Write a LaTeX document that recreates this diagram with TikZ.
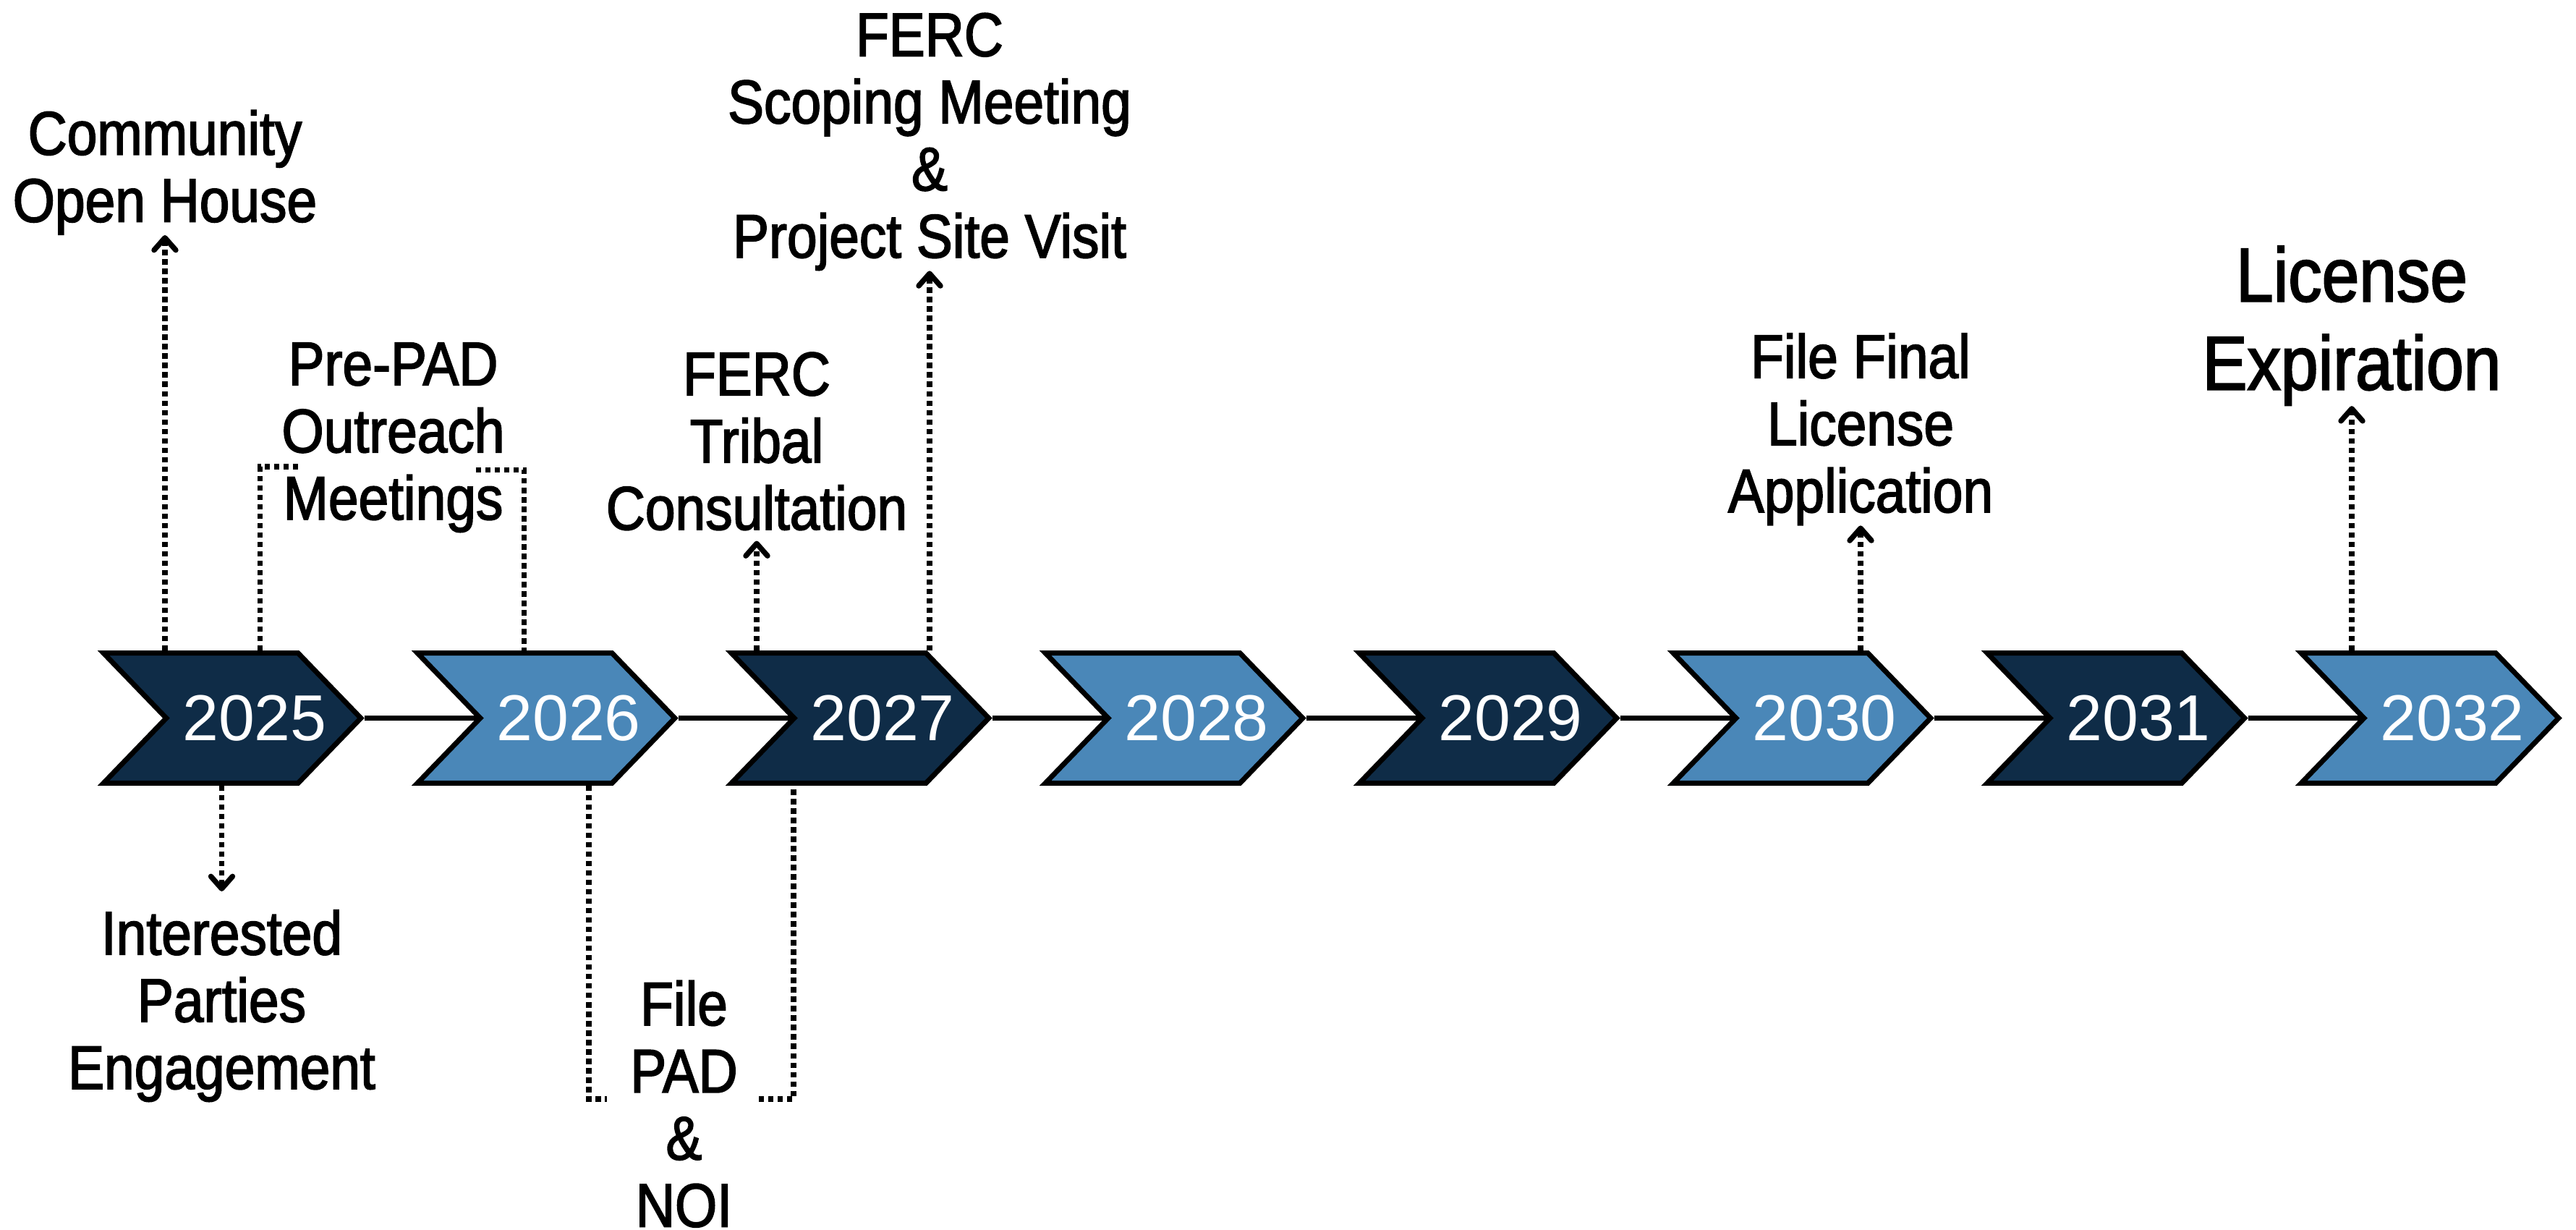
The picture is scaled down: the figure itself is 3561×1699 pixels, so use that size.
\documentclass[tikz,border=0pt]{standalone}
\usepackage{fontspec}
\usepackage{xcolor}
\usepackage{tikz}
\usetikzlibrary{shapes.symbols,arrows.meta,backgrounds}

\newfontfamily\labelfont{Liberation Sans}[FakeStretch=0.88, FakeBold=2]
\newfontfamily\yearfont{Liberation Sans}

\definecolor{navy}{HTML}{0F2C47}
\definecolor{steel}{HTML}{4A87B8}

\tikzset{
	chevron/.style={signal, signal from=west, signal to=east, signal pointer angle=92,
		draw=black, line width=2pt, inner sep=0pt,
		minimum width=3.555cm, minimum height=1.795cm,
		text=white, font=\yearfont\fontsize{25.5}{26}\selectfont},
	event/.style={align=center, inner sep=0pt, anchor=base,
		font=\labelfont\fontsize{24.2}{26.4}\selectfont},
	dotline/.style={line width=2.1pt, dash pattern=on 2.1pt off 1.6pt},
	dotarrow/.style={dotline, -{Straight Barb[length=1.7mm,width=3mm,round]}}
}

\begin{document}
\begin{tikzpicture}[x=0.01cm, y=-0.01cm]
				\useasboundingbox (0,0) rectangle (3561,1699);
				
				%Years
				\foreach \yr/\col [count=\i from 0] in {2025/navy, 2026/steel, 2027/navy, 2028/steel, 2029/navy, 2030/steel, 2031/navy, 2032/steel}
					\node[chevron, fill=\col] (y\yr) at (321+434*\i, 992.5) {\makebox[0pt]{\hspace*{0.62cm}\yr}};
				
				%Lines
				\begin{scope}[on background layer]
					\foreach \a/\b in {2025/2026, 2026/2027, 2027/2028, 2028/2029, 2029/2030, 2030/2031, 2031/2032}
						\draw[line width=2pt] (y\a.east) -- (y\b.center);
				\end{scope}
				
				%Events
				\node[event] (openhouse) at (228, 306.6) {Community\\Open House};
				\node[event] (parties) at (306.5, 1505) {Interested\\Parties\\Engagement};
				\node[event] (prepad) at (543.5, 718) {Pre-PAD\\Outreach\\Meetings};
				\node[event] (tribal) at (1046, 732) {FERC\\Tribal\\Consultation};
				\node[event] (scoping) at (1285, 356) {FERC\\Scoping Meeting\\\&\\Project Site Visit};
				\node[event] (filepad) at (945.5, 1695.5) {File\\PAD\\\&\\NOI};
				\node[event] (finalapp) at (2572, 708) {File Final\\License\\Application};
				\node[event, font=\labelfont\fontsize{30}{34.7}\selectfont] (expire) at (3251, 538.5) {License\\Expiration};
				
				%Arrows
				\draw[dotarrow] (openhouse.south |- y2025.north) -- (openhouse.south);
				\draw[dotarrow, shorten >=0.25cm] (parties.north |- y2025.south) -- (parties.north);
				\draw[dotarrow, shorten >=0.14cm] (tribal.south |- y2027.north) -- (tribal.south);
				\draw[dotarrow] (scoping.south |- y2027.north) -- (scoping.south);
				\draw[dotarrow] (finalapp.south |- y2030.north) -- (finalapp.south);
				\draw[dotarrow] (expire.south |- y2032.north) -- (expire.south);
				
				%Brackets
				\coordinate (prepadL) at (413, 645);
				\coordinate (prepadR) at (658, 649.5);
				\draw[dotline] ([xshift=0.387cm]y2025.north) |- (prepadL);
				\draw[dotline] (prepadR) -| ([xshift=-0.305cm]y2026.north);
				\coordinate (filepadL) at (839, 1519);
				\coordinate (filepadR) at (1049, 1519);
				\draw[dotline] ([xshift=0.59cm]y2026.south) |- (filepadL);
				\draw[dotline] (filepadR) -| ([xshift=-0.92cm]y2027.south);
			\end{tikzpicture}
\end{document}
